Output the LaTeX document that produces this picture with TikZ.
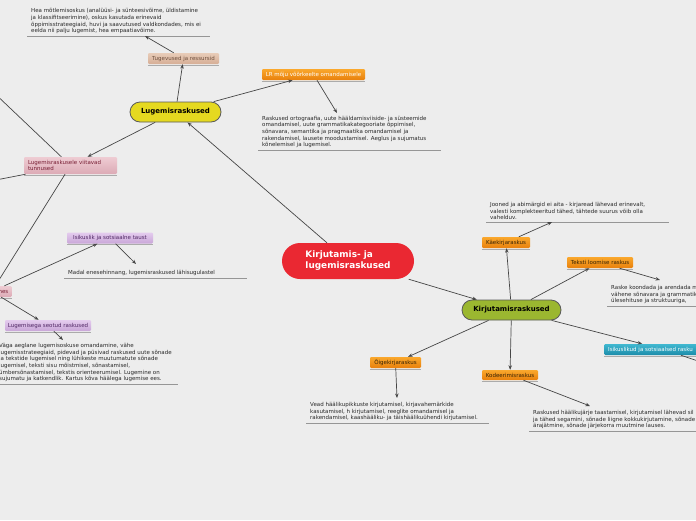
\documentclass[tikz,border=0pt]{standalone}
\usepackage{fontspec}
\setmainfont{DejaVu Sans}
\usetikzlibrary{arrows.meta}
\definecolor{bg}{RGB}{237,237,237}
\definecolor{txtc}{RGB}{40,40,40}
\definecolor{linec}{RGB}{70,70,70}
\definecolor{ulc}{RGB}{150,150,150}
\definecolor{redm}{RGB}{234,40,50}
\definecolor{yelm}{RGB}{229,217,32}
\definecolor{grnm}{RGB}{155,183,48}
\definecolor{orT}{RGB}{250,168,45}
\definecolor{orB}{RGB}{232,128,12}
\definecolor{tanT}{RGB}{232,204,184}
\definecolor{tanB}{RGB}{214,174,150}
\definecolor{tanTx}{RGB}{110,80,62}
\definecolor{pkT}{RGB}{238,204,211}
\definecolor{pkB}{RGB}{220,170,181}
\definecolor{pkTx}{RGB}{120,30,52}
\definecolor{puT}{RGB}{228,204,238}
\definecolor{puB}{RGB}{201,166,216}
\definecolor{puTx}{RGB}{80,40,100}
\definecolor{tlT}{RGB}{64,184,208}
\definecolor{tlB}{RGB}{28,140,170}
\definecolor{orTx}{RGB}{55,35,5}
\tikzset{
  txt/.style={anchor=south west, align=left, inner xsep=4pt, inner ysep=2pt,
    font=\fontsize{5.5}{6.6}\selectfont, text=txtc,
    append after command={(\tikzlastnode.south west) edge[draw=ulc, line width=0.9pt] ([xshift=183pt]\tikzlastnode.south west)}},
  tag/.style={rectangle, rounded corners=1.2pt, inner sep=1pt, align=left,
    font=\fontsize{5.5}{6.3}\selectfont,
    append after command={([yshift=-0.8pt]\tikzlastnode.south west) edge[draw=ulc!80, line width=0.8pt] ([yshift=-0.8pt]\tikzlastnode.south east)}},
  orangetag/.style={tag, top color=orT, bottom color=orB, text=orTx, minimum height=11pt},
  tantag/.style={tag, top color=tanT, bottom color=tanB, text=tanTx, minimum height=11pt},
  pinktag/.style={tag, top color=pkT, bottom color=pkB, text=pkTx},
  purptag/.style={tag, top color=puT, bottom color=puB, text=puTx, minimum height=11pt},
  tealtag/.style={tag, top color=tlT, bottom color=tlB, text=white, minimum height=11pt},
  pill/.style={rectangle, draw=black!65, line width=0.8pt, font=\bfseries\fontsize{7}{8}\selectfont, text=black},
  arr/.style={draw=linec, line width=0.7pt, -{Stealth[length=4.5pt,width=3.5pt]}},
  ln/.style={draw=linec, line width=0.7pt}
}
\begin{document}
\begin{tikzpicture}[x=1pt,y=-1pt]
\useasboundingbox (0,0) rectangle (696,520);
\fill[bg] (0,0) rectangle (696,520);
\clip (0,0) rectangle (696,520);

% central nodes
\node[rectangle, rounded corners=18pt, fill=redm, minimum width=132pt, minimum height=36pt,
      text=white, align=left, font=\bfseries\fontsize{8.9}{11}\selectfont] (main) at (348,261)
      {Kirjutamis- ja\\lugemisraskused};
\node[pill, fill=yelm, rounded corners=10pt, minimum width=91pt, minimum height=20pt] (lug) at (175.5,112) {Lugemisraskused};
\node[pill, fill=grnm, rounded corners=10pt, minimum width=99pt, minimum height=20pt] (kir) at (511.5,310) {Kirjutamisraskused};

% tags, left
\node[tantag, minimum width=71pt] (tug) at (183.5,58.5) {Tugevused ja ressursid};
\node[orangetag, text=white, minimum width=103pt] (lr) at (313.5,74.5) {LR mõju võõrkeelte omandamisele};
\node[pinktag, minimum width=93pt, minimum height=17pt, text width=85pt, inner xsep=4pt] (tun) at (70.5,165.5) {Lugemisraskusele viitavad\\tunnused};
\node[purptag, minimum width=86pt] (isik) at (110,238) {Isikuslik ja sotsiaalne taust};
\node[pinktag, minimum width=40pt, minimum height=11pt, anchor=east, align=right, text width=33pt] (nes) at (12,291.5) {\hfill nes};
\node[purptag, minimum width=86pt] (lseo) at (48,325.5) {Lugemisega seotud raskused};

% tags, right
\node[orangetag, minimum width=48pt] (kae) at (506,242.5) {Käekirjaraskus};
\node[orangetag, minimum width=66pt] (tek) at (600,262.5) {Teksti loomise raskus};
\node[tealtag, anchor=west, minimum width=120pt, text width=112pt] (teal) at (604,349.5) {Isikuslikud ja sotsiaalsed rasku};
\node[orangetag, minimum width=51pt] (oig) at (395.5,362.5) {Õigekirjaraskus};
\node[orangetag, minimum width=56pt, minimum height=10pt] (kod) at (510,375) {Kodeerimisraskus};

% text blocks
\node[txt] (t1) at (27,36) {Hea mõtlemisoskus (analüüsi- ja sünteesivõime, üldistamine\\ja klassifitseerimine), oskus kasutada erinevaid\\õppimisstrateegiaid, huvi ja saavutused valdkondades, mis ei\\eelda nii palju lugemist, hea empaatiavõime.};
\node[txt] (t2) at (258,150) {Raskused ortograafia, uute hääldamisviiside- ja süsteemide\\omandamisel, uute grammatikakategooriate õppimisel,\\sõnavara, semantika ja pragmaatika omandamisel ja\\rakendamisel, lausete moodustamisel. Aeglus ja sujumatus\\kõnelemisel ja lugemisel.};
\node[txt] (t3) at (64,278) {Madal enesehinnang, lugemisraskused lähisugulastel};
\node[txt] (t4) at (-5,384) {Väga aeglane lugemisoskuse omandamine, vähe\\lugemisstrateegiaid, pidevad ja püsivad raskused uute sõnade\\ja tekstide lugemisel ning lühikeste muutumatute sõnade\\lugemisel, teksti sisu mõistmisel, sõnastamisel,\\ümbersõnastamisel, tekstis orienteerumisel. Lugemine on\\sujumatu ja katkendlik. Kartus kõva häälega lugemise ees.};
\node[txt] (t5) at (486,222) {Jooned ja abimärgid ei aita - kirjaread lähevad erinevalt,\\valesti komplekteeritud tähed, tähtede suurus võib olla\\vahelduv.};
\node[txt] (t6) at (607,306) {Raske koondada ja arendada m\\vähene sõnavara ja grammatik\\ülesehituse ja struktuuriga,};
\node[txt] (t7) at (306,423) {Vead häälikupikkuste kirjutamisel, kirjavahemärkide\\kasutamisel, h kirjutamisel, reeglite omandamisel ja\\rakendamisel, kaashääliku- ja täishäälikuühendi kirjutamisel.};
\node[txt] (t8) at (529,431) {Raskused häälikujärje taastamisel, kirjutamisel lähevad sil\\ja tähed segamini, sõnade liigne kokkukirjutamine, sõnade\\ärajätmine, sõnade järjekorra muutmine lauses.};

% free ends
\coordinate (oa) at (-30,70);
\coordinate (ob) at (-30,185);
\coordinate (oc) at (730,372);
\coordinate (c6) at (660,280);
\coordinate (c8) at (590,406);
\coordinate (c5) at (552,222);
\coordinate (c1) at (145,36);
\coordinate (c2) at (337,113);
\coordinate (c3) at (136,264);
\coordinate (c4) at (63,340);
\coordinate (c7) at (397,398);

% connectors
\draw[arr] (main) -- (lug);
\draw[arr] (main) -- (kir);
\draw[arr] (lug) -- (tug);
\draw[arr] (tug) -- (c1);
\draw[arr] (lug) -- (lr);
\draw[arr] (lr) -- (c2);
\draw[arr] (lug) -- (tun);
\draw[ln] (tun) -- (oa);
\draw[ln] (tun) -- (ob);
\draw[ln] (tun) -- (nes);
\draw[arr] (nes) -- (isik);
\draw[arr] (isik) -- (c3);
\draw[arr] (nes) -- (lseo);
\draw[arr] (lseo) -- (c4);

\draw[arr] (kir) -- (kae);
\draw[arr] (kae) -- (c5);
\draw[arr] (kir) -- (tek);
\draw[arr] (tek) -- (c6);
\draw[arr] (kir) -- (teal);
\draw[ln] (teal) -- (oc);
\draw[arr] (kir) -- (oig);
\draw[arr] (oig) -- (c7);
\draw[arr] (kir) -- (kod);
\draw[arr] (kod) -- (c8);
\end{tikzpicture}
\end{document}
